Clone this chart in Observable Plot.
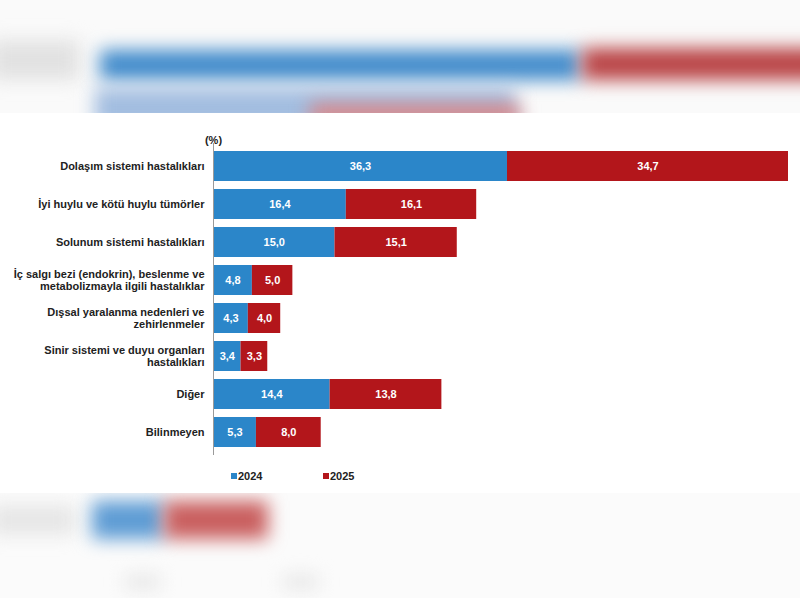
<!DOCTYPE html>
<html>
<head>
<meta charset="utf-8">
<script src="https://cdn.jsdelivr.net/npm/d3@7"></script>
<script src="https://cdn.jsdelivr.net/npm/@observablehq/plot@0.6"></script>
<style>
  html, body { margin: 0; padding: 0; background: #ffffff; width: 800px; height: 600px; overflow: hidden; font-family: "Liberation Sans", Arial, sans-serif; }
  .deco { position: relative; height: 113px; background: #fafafa; overflow: hidden; }
  .deco-bottom { position: relative; height: 105px; background: #fbfbfb; overflow: hidden; }
  .blob { position: absolute; filter: blur(9px); }
  #chart { background: #ffffff; }
  .legend { display: flex; gap: 0; padding-left: 231px; height: 35px; align-items: center; background:#fff; font: bold 11px "Liberation Sans", Arial, sans-serif; color: #222; }
  .legend .item { display: flex; align-items: center; width: 92px; }
  .legend .sw { width: 6px; height: 6px; margin-right: 1px; }
</style>
</head>
<body>
<div class="deco">
  <div class="blob" style="left:-10px;top:40px;width:90px;height:40px;background:#e2e2e2"></div>
  <div class="blob" style="left:100px;top:50px;width:480px;height:30px;background:#418bcb"></div>
  <div class="blob" style="left:582px;top:48px;width:240px;height:32px;background:#b94446"></div>
  <div class="blob" style="left:95px;top:88px;width:420px;height:40px;background:#a2bde0"></div>
  <div class="blob" style="left:310px;top:104px;width:210px;height:20px;background:#dc8585"></div>
</div>
<div id="chart"></div>
<div class="legend" id="legend"></div>
<div class="deco-bottom">
  <div class="blob" style="left:-10px;top:12px;width:85px;height:30px;background:#e6e6e6"></div>
  <div class="blob" style="left:92px;top:8px;width:72px;height:38px;background:#5e9cd4"></div>
  <div class="blob" style="left:164px;top:8px;width:104px;height:38px;background:#c95f5f"></div>
  <div class="blob" style="left:125px;top:82px;width:35px;height:14px;background:#e6e6e6"></div>
  <div class="blob" style="left:283px;top:82px;width:35px;height:14px;background:#e6e6e6"></div>
</div>
<script>
const categories = [
  "Dolaşım sistemi hastalıkları",
  "İyi huylu ve kötü huylu tümörler",
  "Solunum sistemi hastalıkları",
  "İç salgı bezi (endokrin), beslenme ve\nmetabolizmayla ilgili hastalıklar",
  "Dışsal yaralanma nedenleri ve\nzehirlenmeler",
  "Sinir sistemi ve duyu organları\nhastalıkları",
  "Diğer",
  "Bilinmeyen"
];
const years = ["2024", "2025"];
const values2024 = [36.3, 16.4, 15.0, 4.8, 4.3, 3.4, 14.4, 5.3];
const values2025 = [34.7, 16.1, 15.1, 5.0, 4.0, 3.3, 13.8, 8.0];
const colors = ["#2b86c9", "#b3161b"];
const unitLabel = "(%)";

const data = [];
categories.forEach((c, i) => {
  data.push({cat: c, year: years[0], value: values2024[i]});
  data.push({cat: c, year: years[1], value: values2025[i]});
});

const fmt = v => v.toFixed(1).replace(".", ",");

const chart = Plot.plot({
  width: 800,
  height: 345,
  marginTop: 30,
  marginLeft: 213,
  marginRight: 12,
  marginBottom: 3,
  style: {fontFamily: "'Liberation Sans', Arial, sans-serif", fontSize: "11px", background: "#ffffff", color: "#222"},
  x: {axis: null},
  y: {domain: categories, padding: 0.2, label: null, tickSize: 0, tickPadding: 9},
  color: {domain: years, range: colors},
  marks: [
    Plot.barX(data, Plot.stackX({x: "value", y: "cat", fill: "year", order: years})),
    Plot.text(data, Plot.stackX({x: "value", y: "cat", z: "year", order: years, text: d => fmt(d.value), fill: "white", fontWeight: "bold", fontSize: 11})),
    Plot.ruleX([0], {stroke: "#9a9a9a", strokeWidth: 1}),
    Plot.text([unitLabel], {x: 0, frameAnchor: "top", dy: -7, fontWeight: "bold", fontSize: 11, fill: "#222"}),
    Plot.axisY({tickSize: 0, tickPadding: 9, fontWeight: "bold", fontSize: 11, lineHeight: 1.1, label: null})
  ]
});
document.getElementById("chart").appendChild(chart);

const legend = document.getElementById("legend");
years.forEach((y, i) => {
  const item = document.createElement("div");
  item.className = "item";
  const sw = document.createElement("span");
  sw.className = "sw";
  sw.style.background = colors[i];
  const t = document.createElement("span");
  t.textContent = y;
  item.appendChild(sw);
  item.appendChild(t);
  legend.appendChild(item);
});
</script>
</body>
</html>
